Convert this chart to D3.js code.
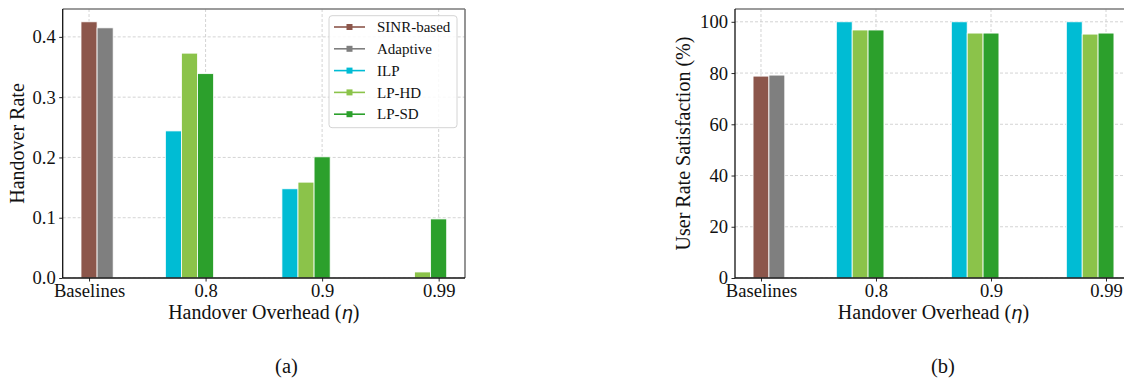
<!DOCTYPE html>
<html>
<head>
<meta charset="utf-8">
<script src="https://cdn.jsdelivr.net/npm/d3@7"></script>
<style>
  html, body { margin: 0; padding: 0; background: #fff; }
  svg { display: block; }
  text { font-family: "Liberation Serif", "Times New Roman", serif; fill: #111; }
</style>
</head>
<body>
<svg id="fig" width="1124" height="381"></svg>
<script>
// Categories on the x axis (handover overhead eta)
const categories = ["Baselines", "0.8", "0.9", "0.99"];
const seriesNames = ["SINR-based", "Adaptive", "ILP", "LP-HD", "LP-SD"];
const seriesColors = ["#8c564b", "#7f7f7f", "#00bcd4", "#8bc34a", "#2ca02c"];

// (a) Handover rate per scheme
const sinrHandover     = [0.425, null, null, null];
const adaptiveHandover = [0.415, null, null, null];
const ilpHandover      = [null, 0.244, 0.148, 0.0];
const lphdHandover     = [null, 0.373, 0.159, 0.010];
const lpsdHandover     = [null, 0.339, 0.201, 0.098];

// (b) User rate satisfaction (%) per scheme
const sinrSatisfaction     = [78.8, null, null, null];
const adaptiveSatisfaction = [79.2, null, null, null];
const ilpSatisfaction      = [null, 100, 100, 100];
const lphdSatisfaction     = [null, 96.8, 95.6, 95.2];
const lpsdSatisfaction     = [null, 96.8, 95.6, 95.6];

const yTicksA = [0.0, 0.1, 0.2, 0.3, 0.4];
const yTicksB = [0, 20, 40, 60, 80, 100];

// bar width (in category units) and per-series slot offsets within a group
const barW = 0.138;
const slot = [0, 1, -2, -1, 0];

const svg = d3.select("#fig");

function drawPanel(cfg) {
  const g = svg.append("g");
  const x = d3.scaleLinear().domain([-0.226, 3.226]).range([cfg.left, cfg.right]);
  const y = d3.scaleLinear().domain([0, cfg.ymax]).range([cfg.bottom, cfg.top]);

  const clipId = "clip" + cfg.id;
  svg.append("clipPath").attr("id", clipId).append("rect")
    .attr("x", cfg.left).attr("y", cfg.top)
    .attr("width", cfg.right - cfg.left).attr("height", cfg.bottom - cfg.top);

  // dashed grid
  const grid = g.append("g").attr("clip-path", `url(#${clipId})`);
  grid.selectAll("line.gy").data(cfg.yTicks).enter().append("line")
    .attr("x1", cfg.left).attr("x2", cfg.right)
    .attr("y1", d => y(d)).attr("y2", d => y(d))
    .attr("stroke", "#cfcfcf").attr("stroke-width", 0.9).attr("stroke-dasharray", "3,2");
  grid.selectAll("line.gx").data(categories).enter().append("line")
    .attr("x1", (d, i) => x(i)).attr("x2", (d, i) => x(i))
    .attr("y1", cfg.top).attr("y2", cfg.bottom)
    .attr("stroke", "#cfcfcf").attr("stroke-width", 0.9).attr("stroke-dasharray", "3,2");

  // bars
  const bars = [];
  cfg.series.forEach((vals, s) => {
    vals.forEach((v, i) => {
      if (v !== null) bars.push({ s, i, v });
    });
  });
  g.append("g").selectAll("rect").data(bars).enter().append("rect")
    .attr("x", d => x(d.i + slot[d.s] * barW - barW / 2))
    .attr("width", d => x(barW) - x(0))
    .attr("y", d => y(d.v))
    .attr("height", d => y(0) - y(d.v))
    .attr("fill", d => seriesColors[d.s])
    .attr("stroke", "#fff").attr("stroke-width", 0.8);

  // spines: top/right grey, left/bottom black
  g.append("line").attr("x1", cfg.left).attr("x2", cfg.right).attr("y1", cfg.top).attr("y2", cfg.top)
    .attr("stroke", "#7a7a7a").attr("stroke-width", 1.6);
  g.append("line").attr("x1", cfg.right).attr("x2", cfg.right).attr("y1", cfg.top).attr("y2", cfg.bottom)
    .attr("stroke", "#7a7a7a").attr("stroke-width", 1.6);

  // axes
  const yAxis = d3.axisLeft(y).tickValues(cfg.yTicks).tickFormat(cfg.yFmt).tickSize(3.5).tickPadding(3.5);
  const ya = g.append("g").attr("transform", `translate(${cfg.left},0)`).call(yAxis);
  const xAxis = d3.axisBottom(x).tickValues([0, 1, 2, 3]).tickFormat(i => categories[i]).tickSize(3.5).tickPadding(2);
  const xa = g.append("g").attr("transform", `translate(0,${cfg.bottom})`).call(xAxis);
  [ya, xa].forEach(a => {
    a.select(".domain").attr("stroke", "#111").attr("stroke-width", 1.3);
    a.selectAll(".tick line").attr("stroke", "#111").attr("stroke-width", 0.9);
    a.selectAll(".tick text").style("font-family", '"Liberation Serif", serif')
      .style("font-size", "18.6px").attr("fill", "#111");
  });
  ya.select(".domain").attr("d", `M0,${cfg.top}V${cfg.bottom}`);
  xa.select(".domain").attr("d", `M${cfg.left},0H${cfg.right}`);

  // axis titles
  const cx = (cfg.left + cfg.right) / 2;
  const xt = g.append("text").attr("x", cx).attr("y", cfg.bottom + 41)
    .attr("text-anchor", "middle").style("font-size", "20px");
  xt.append("tspan").text("Handover Overhead (");
  xt.append("tspan").text("η").style("font-family", '"DejaVu Sans", sans-serif')
    .style("font-style", "italic").style("font-size", "18px");
  xt.append("tspan").text(")");

  g.append("text")
    .attr("transform", `translate(${cfg.ylabelX},${(cfg.top + cfg.bottom) / 2}) rotate(-90)`)
    .attr("text-anchor", "middle").attr("dy", "0.35em").style("font-size", "20px")
    .text(cfg.ylabel);

  // sub-caption
  g.append("text").attr("x", cfg.captionX).attr("y", 373).attr("text-anchor", "middle")
    .style("font-size", "20.5px").text(cfg.caption);

  return { x, y };
}

drawPanel({
  id: "a", left: 62.7, right: 465, top: 9, bottom: 278, ymax: 0.44625,
  yTicks: yTicksA, yFmt: d3.format(".1f"),
  series: [sinrHandover, adaptiveHandover, ilpHandover, lphdHandover, lpsdHandover],
  ylabel: "Handover Rate", ylabelX: 17, caption: "(a)", captionX: 286.5
});

drawPanel({
  id: "b", left: 735, right: 1132, top: 9, bottom: 278, ymax: 105,
  yTicks: yTicksB, yFmt: d3.format("d"),
  series: [sinrSatisfaction, adaptiveSatisfaction, ilpSatisfaction, lphdSatisfaction, lpsdSatisfaction],
  ylabel: "User Rate Satisfaction (%)", ylabelX: 683, caption: "(b)", captionX: 943
});

// legend for panel (a)
const lg = svg.append("g");
const lx = 329, ly = 15.7, lw = 128, lh = 112;
lg.append("rect").attr("x", lx).attr("y", ly).attr("width", lw).attr("height", lh)
  .attr("rx", 3).attr("fill", "#fff").attr("fill-opacity", 0.85)
  .attr("stroke", "#d4d4d4").attr("stroke-width", 1);
const rows = lg.selectAll("g.row").data(seriesNames).enter().append("g")
  .attr("transform", (d, i) => `translate(0,${27 + i * 21.8})`);
rows.append("line").attr("x1", 334).attr("x2", 365).attr("y1", 0).attr("y2", 0)
  .attr("stroke", (d, i) => seriesColors[i]).attr("stroke-width", 1.6);
rows.append("rect").attr("x", 346.5).attr("y", -3).attr("width", 6).attr("height", 6)
  .attr("fill", (d, i) => seriesColors[i]);
rows.append("text").attr("x", 377).attr("y", 0).attr("dy", "0.35em")
  .style("font-size", "15px").text(d => d);
</script>
</body>
</html>
